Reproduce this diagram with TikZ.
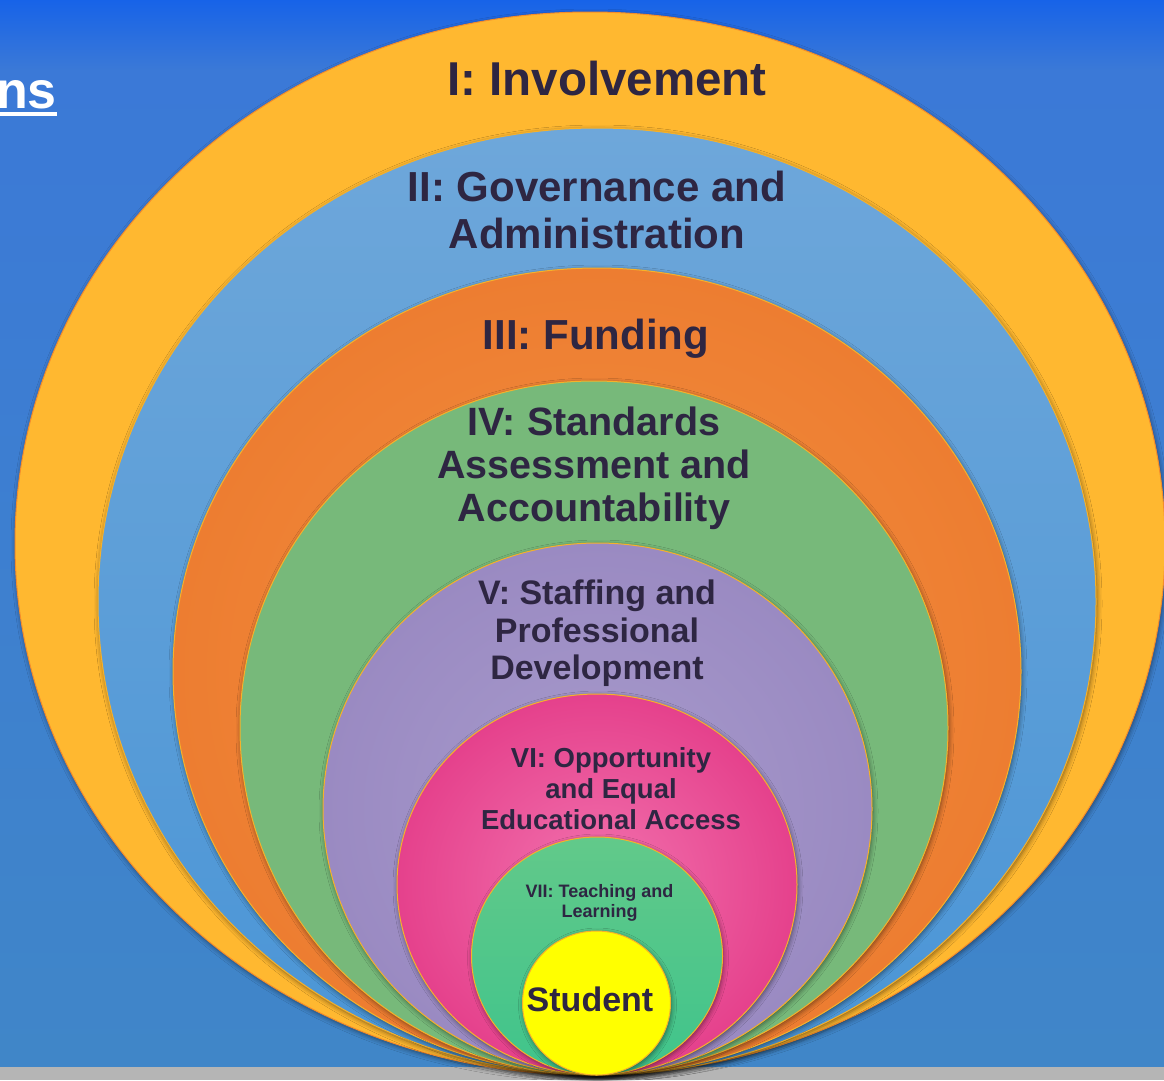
\documentclass[tikz,border=0pt]{standalone}
\usepackage{fontspec}
\setmainfont{Liberation Sans}
\usetikzlibrary{shadows.blur}
\definecolor{bgtop}{HTML}{1763E8}
\definecolor{bgmid}{HTML}{3B79D7}
\definecolor{bgbot}{HTML}{4086C8}
\definecolor{floorgray}{HTML}{B5B5B5}
\definecolor{involve}{HTML}{FFB830}
\definecolor{involveline}{HTML}{F48C2A}
\definecolor{govtop}{HTML}{6EA7DA}
\definecolor{govbot}{HTML}{4A95D6}
\definecolor{fundout}{HTML}{ED7D31}
\definecolor{fundin}{HTML}{F2903F}
\definecolor{standard}{HTML}{77B97A}
\definecolor{staffout}{HTML}{9A8AC2}
\definecolor{staffin}{HTML}{A89BCC}
\definecolor{oppout}{HTML}{E5418C}
\definecolor{oppin}{HTML}{F272AE}
\definecolor{teachtop}{HTML}{62C98A}
\definecolor{teachbot}{HTML}{3FC48B}
\definecolor{student}{HTML}{FFFF00}
\definecolor{ringline}{HTML}{F6B12A}
\definecolor{labelink}{HTML}{2E2642}
\tikzset{
    ring/.style = {draw=ringline, line width=1pt, blur shadow={shadow xshift=1pt, shadow yshift=-2pt, shadow blur radius=5pt, shadow opacity=50}},
    ring-label/.style = {text=labelink, align=center, inner sep=0pt, anchor=north},
}

\begin{document}
\begin{tikzpicture}[x=1pt, y=-1pt]
\useasboundingbox (0,0) rectangle (1164,1080);
\clip (0,0) rectangle (1164,1080);
% backdrop
\shade[top color=bgtop, bottom color=bgmid] (0,0) rectangle (1164,70);
\shade[top color=bgmid, bottom color=bgbot] (0,70) rectangle (1164,1067);
\fill[floorgray] (0,1067) rectangle (1164,1080);
\node[font=\bfseries\fontsize{52}{56}\selectfont, text=white, anchor=base east, inner sep=0pt] (title) at (57,108) {ns};
\coordinate (ul) at (0,113.75);
\draw[white, line width=3.5pt] (ul) -- (ul -| title.east);

% nested rings, outside in
\path[ring, draw=involveline, fill=involve] (590,543.5) ellipse [x radius=575pt, y radius=531.5pt];
\path[ring, top color=govtop, bottom color=govbot] (597,601.5) ellipse [x radius=499pt, y radius=473.5pt];
\path[ring, inner color=fundin, outer color=fundout] (597,671.5) ellipse [x radius=424pt, y radius=403.5pt];
\path[ring, fill=standard] (594,728) ellipse [x radius=354pt, y radius=347pt];
\path[ring, inner color=staffin, outer color=staffout] (597.5,809) ellipse [x radius=274.5pt, y radius=266pt];
\path[ring, inner color=oppin, outer color=oppout] (597,884.5) ellipse [x radius=200pt, y radius=190.5pt];
\path[ring, top color=teachtop, bottom color=teachbot] (597,956) ellipse [x radius=125.5pt, y radius=119pt];
\path[ring, fill=student] (596.5,1003) ellipse [x radius=74pt, y radius=72pt];

% labels
\node[ring-label, font=\bfseries\fontsize{47.5}{52}\selectfont] (involvement) at (607,60.5) {I: Involvement};
\node[ring-label, font=\bfseries\fontsize{42}{46.5}\selectfont] (governance) at (597,171) {II: Governance and\\Administration};
\node[ring-label, font=\bfseries\fontsize{42}{46.5}\selectfont] (funding) at (596,318.5) {III: Funding};
\node[ring-label, font=\bfseries\fontsize{39.5}{43}\selectfont] (standards) at (594,407) {IV: Standards\\Assessment and\\Accountability};
\node[ring-label, font=\bfseries\fontsize{34}{37.5}\selectfont] (staffing) at (597,580) {V: Staffing and\\Professional\\Development};
\node[ring-label, font=\bfseries\fontsize{27.5}{31}\selectfont] (opportunity) at (611,747) {VI: Opportunity\\and Equal\\Educational Access};
\node[ring-label, font=\bfseries\fontsize{18}{20}\selectfont] (teaching) at (599.5,884) {VII: Teaching and\\Learning};
\node[ring-label, font=\bfseries\fontsize{34}{37}\selectfont] (student) at (590,987) {Student};
\end{tikzpicture}
\end{document}
